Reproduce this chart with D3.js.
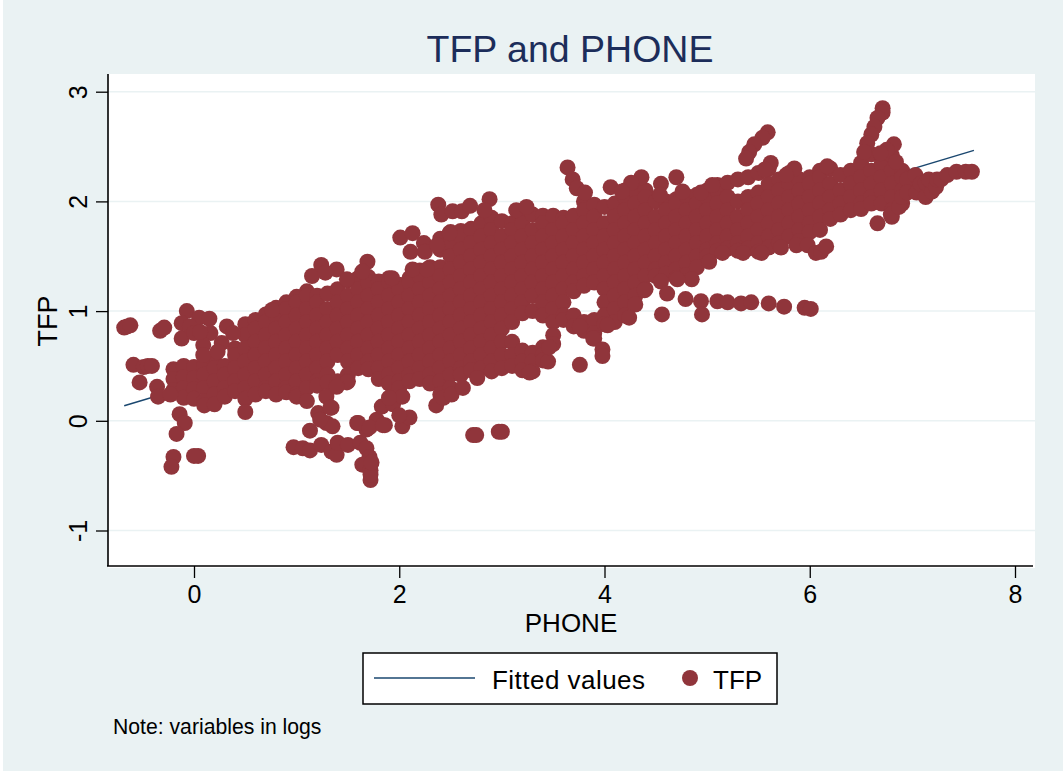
<!DOCTYPE html>
<html>
<head>
<meta charset="utf-8">
<title>TFP and PHONE</title>
<script src="https://cdn.jsdelivr.net/npm/d3@7"></script>
<style>
  html, body { margin: 0; background: #fff; }
  svg { display: block; }
  text { font-family: "Liberation Sans", Arial, sans-serif; fill: #000; }
</style>
</head>
<body>
<svg id="chart" width="1063" height="771"></svg>
<script>
const phoneTicks = [0, 2, 4, 6, 8];
const tfpTicks = [-1, 0, 1, 2, 3];
const fittedPhone = [-0.68, 7.6];
const fittedTfp = [0.137, 2.465];

// main band
const bandPhone = [
  -0.2, -0.1, 0, 0.1, 0.2, 0.3, 0.4, 0.5, 0.6, 0.7, 0.8, 0.9,
  1, 1.1, 1.2, 1.3, 1.4, 1.5, 1.6, 1.7, 1.8, 1.9,
  2, 2.1, 2.2, 2.3, 2.4, 2.5, 2.6, 2.7, 2.8, 2.9,
  3, 3.1, 3.2, 3.3, 3.4, 3.5, 3.6, 3.7, 3.8, 3.9,
  4, 4.1, 4.2, 4.3, 4.4, 4.5, 4.6, 4.7, 4.8, 4.9,
  5, 5.1, 5.2, 5.3, 5.4, 5.5, 5.6, 5.7, 5.8, 5.9,
  6, 6.1, 6.2, 6.3, 6.4, 6.5, 6.6, 6.7, 6.8, 6.9, 7,
];
const bandTfp = [
  [0.47, 0.38, 0.28],
  [0.5, 0.4, 0.3, 0.21],
  [0.49, 0.39, 0.29, 0.2],
  [0.5, 0.42, 0.3, 0.18, 0.14],
  [0.54, 0.48, 0.36, 0.24, 0.15],
  [0.5, 0.42, 0.3, 0.22],
  [0.66, 0.6, 0.48, 0.36, 0.27],
  [0.88, 0.78, 0.66, 0.54, 0.42, 0.3, 0.2, 0.08],
  [0.92, 0.84, 0.72, 0.6, 0.48, 0.36, 0.24],
  [0.97, 0.9, 0.78, 0.66, 0.54, 0.42, 0.3, 0.27],
  [1.03, 0.96, 0.84, 0.72, 0.6, 0.48, 0.36, 0.24],
  [1.08, 1.02, 0.9, 0.78, 0.66, 0.54, 0.42, 0.3, 0.26],
  [1.13, 1.08, 0.96, 0.84, 0.72, 0.6, 0.48, 0.36, 0.24, 0.22],
  [1.18, 1.14, 1.02, 0.9, 0.78, 0.66, 0.54, 0.42, 0.3, 0.18],
  [1.14, 1.08, 0.96, 0.84, 0.72, 0.6, 0.48, 0.36, 0.32],
  [1.16, 1.02, 0.9, 0.78, 0.66, 0.54, 0.42, 0.35],
  [1.2, 1.08, 0.96, 0.84, 0.72, 0.6, 0.36],
  [1.28, 1.14, 1.02, 0.9, 0.78, 0.66, 0.54, 0.42, 0.36],
  [1.3, 1.2, 1.08, 0.96, 0.84, 0.72, 0.6, 0.48],
  [1.31, 1.26, 1.14, 1.02, 0.9, 0.78, 0.66, 0.54, 0.47],
  [1.27, 1.2, 1.08, 0.96, 0.84, 0.72, 0.6, 0.48, 0.38],
  [1.3, 1.26, 1.14, 1.02, 0.9, 0.78, 0.66, 0.54, 0.42, 0.34],
  [1.24, 1.2, 1.08, 0.96, 0.84, 0.72, 0.6, 0.48, 0.36, 0.3],
  [1.3, 1.26, 1.14, 1.02, 0.9, 0.78, 0.66, 0.54, 0.42, 0.36],
  [1.37, 1.32, 1.2, 1.08, 0.96, 0.84, 0.72, 0.6, 0.48, 0.38],
  [1.4, 1.38, 1.26, 1.14, 1.02, 0.9, 0.78, 0.66, 0.54, 0.42, 0.34],
  [1.66, 1.56, 1.4, 1.32, 1.2, 1.08, 0.96, 0.84, 0.72, 0.6, 0.48, 0.36, 0.24],
  [1.72, 1.62, 1.5, 1.38, 1.26, 1.14, 1.02, 0.9, 0.78, 0.66, 0.54, 0.42, 0.3],
  [1.73, 1.68, 1.56, 1.44, 1.32, 1.2, 1.08, 0.96, 0.84, 0.72, 0.6, 0.48, 0.42],
  [1.75, 1.62, 1.5, 1.38, 1.26, 1.14, 1.02, 0.9, 0.78, 0.66, 0.54, 0.46],
  [1.8, 1.68, 1.56, 1.44, 1.32, 1.2, 1.08, 0.96, 0.84, 0.72, 0.6, 0.48],
  [1.85, 1.74, 1.62, 1.5, 1.38, 1.26, 1.14, 1.02, 0.9, 0.78, 0.66, 0.54, 0.45],
  [1.82, 1.68, 1.56, 1.44, 1.32, 1.2, 1.08, 0.96, 0.84, 0.72, 0.6, 0.48],
  [1.8, 1.74, 1.62, 1.5, 1.38, 1.26, 1.14, 1.02, 0.9, 0.72, 0.6, 0.5],
  [1.86, 1.8, 1.68, 1.56, 1.44, 1.32, 1.2, 1.08, 0.98, 0.64, 0.54, 0.46],
  [1.88, 1.74, 1.62, 1.5, 1.38, 1.26, 1.14, 1, 0.62, 0.54, 0.45],
  [1.87, 1.8, 1.68, 1.56, 1.44, 1.32, 1.2, 1.08, 0.96, 0.67, 0.6, 0.55],
  [1.87, 1.74, 1.62, 1.5, 1.38, 1.26, 1.14, 1.02, 0.9, 0.78, 0.7],
  [1.85, 1.8, 1.68, 1.56, 1.44, 1.32, 1.2, 1.08, 0.96, 0.92],
  [1.87, 1.74, 1.62, 1.5, 1.38, 1.26, 1.18, 0.96, 0.86],
  [2, 1.92, 1.8, 1.68, 1.56, 1.44, 1.32, 1.23, 0.9, 0.82],
  [1.97, 1.86, 1.74, 1.62, 1.5, 1.38, 1.26, 0.92, 0.8, 0.75],
  [1.95, 1.8, 1.68, 1.56, 1.44, 1.32, 1.2, 1.08, 0.96, 0.88],
  [1.98, 1.86, 1.74, 1.62, 1.5, 1.38, 1.26, 1.14, 1.02, 0.9],
  [2.1, 2.04, 1.92, 1.8, 1.68, 1.56, 1.44, 1.32, 1.2, 1.08, 0.96],
  [2.15, 2.1, 1.98, 1.86, 1.74, 1.62, 1.5, 1.38, 1.26, 1.14, 1.06],
  [2.1, 2.04, 1.92, 1.8, 1.68, 1.56, 1.44, 1.32, 1.2],
  [2, 1.86, 1.74, 1.62, 1.5, 1.38, 1.32],
  [2, 1.92, 1.8, 1.68, 1.56, 1.44, 1.34],
  [2.02, 1.98, 1.86, 1.74, 1.62, 1.5, 1.38, 1.3],
  [2.05, 1.92, 1.8, 1.68, 1.56, 1.44, 1.33],
  [2.06, 1.98, 1.86, 1.74, 1.62, 1.5, 1.4],
  [2.1, 2.04, 1.92, 1.8, 1.68, 1.56, 1.5],
  [2.15, 2.1, 1.98, 1.86, 1.74, 1.62, 1.55],
  [2.17, 2.04, 1.92, 1.8, 1.68, 1.57],
  [2.2, 2, 1.86, 1.74, 1.62, 1.55],
  [2.22, 2.04, 1.92, 1.8, 1.68, 1.57],
  [2.26, 2.08, 1.98, 1.86, 1.74, 1.62, 1.54],
  [2.3, 2.16, 2.04, 1.92, 1.8, 1.68, 1.58],
  [2.2, 2.1, 1.98, 1.86, 1.74, 1.62],
  [2.26, 2.16, 2.04, 1.92, 1.8, 1.68],
  [2.2, 2.1, 1.98, 1.86, 1.74, 1.64],
  [2.22, 2.16, 2.04, 1.92, 1.8, 1.72],
  [2.28, 2.22, 2.1, 1.98, 1.86, 1.74],
  [2.3, 2.16, 2.04, 1.92, 1.84],
  [2.24, 2.1, 1.98, 1.88],
  [2.28, 2.16, 2.04, 1.92],
  [2.35, 2.22, 2.1, 1.98, 1.93],
  [2.43, 2.28, 2.16, 2.04, 1.98],
  [2.42, 2.34, 2.22, 2.1, 1.98],
  [2.42, 2.28, 2.16, 2.04, 1.92, 1.86],
  [2.28, 2.22, 2.1, 1.98],
  [2.22, 2.1],
];

// points sitting off the band
const leftPoints = [
  [-0.68, 0.85], [-0.65, 0.86], [-0.62, 0.87], [-0.33, 0.82], [-0.29, 0.85],
  [-0.59, 0.51], [-0.49, 0.49], [-0.45, 0.5], [-0.41, 0.5], [-0.53, 0.35],
  [-0.36, 0.31], [-0.35, 0.22], [-0.23, 0.24], [-0.14, 0.06], [-0.09, -0.02],
  [-0.17, -0.12], [-0.2, -0.33], [-0.22, -0.42], [0.04, -0.32], [0, -0.32],
  [-0.07, 1], [-0.12, 0.89], [0.05, 0.94], [0.15, 0.93], [0.16, 0.8],
  [-0.12, 0.75], [-0.04, 0.86], [0.09, 0.69], [0.09, 0.6], [0.27, 0.71],
  [0.23, 0.63], [0.32, 0.86], [0, 0.8], [0.06, 0.81], [0.38, 0.8],
];
const lowerPoints = [
  [1.29, 0.22], [1.34, 0.12], [1.21, 0.07], [1.29, -0.02], [1.35, -0.05],
  [1.13, -0.09], [1.23, 0.01], [0.97, -0.24], [1.06, -0.25], [1.13, -0.27],
  [1.24, -0.22], [1.34, -0.28], [1.39, -0.31], [1.4, -0.2], [1.5, -0.22],
  [1.62, -0.2], [1.68, -0.25], [1.71, -0.33], [1.64, -0.4], [1.72, -0.45],
  [1.72, -0.54], [1.72, -0.49], [1.73, -0.38], [1.59, -0.02], [1.68, -0.08],
  [1.78, 0.01], [1.86, -0.04], [2.03, -0.05], [2.1, 0.03], [1.83, 0.13],
  [1.94, 0.15], [2, 0.05], [2.03, 0.22], [1.9, 0.21], [1.49, 0.35], [1.39, 0.31],
  [1.33, 0.12], [1.6, -0.02], [1.71, -0.06], [1.84, -0.04],
  [2.36, 0.14], [2.43, 0.21], [2.51, 0.24], [2.62, 0.3], [2.76, 0.39],
  [2.72, -0.13], [2.75, -0.13], [2.97, -0.1], [3, -0.1], [3.27, 0.44],
  [3.45, 0.54], [3.46, 0.67], [3.76, 0.51], [3.76, 0.86], [3.89, 0.75],
  [3.98, 0.65], [3.98, 0.59], [4.03, 0.87], [4.24, 0.94],
  [4.39, 1.19], [4.55, 1.27], [4.61, 1.16], [4.79, 1.11], [4.94, 1.09],
  [4.56, 0.97], [4.95, 0.97], [4.85, 1.29], [4.71, 1.29], [5.02, 1.45],
  [5.1, 1.09], [5.2, 1.08], [5.33, 1.07], [5.43, 1.08], [5.6, 1.07],
  [5.75, 1.04], [5.95, 1.03], [6.01, 1.02],
  [5.15, 1.53], [5.35, 1.53], [5.53, 1.53], [5.72, 1.58], [5.87, 1.6],
  [5.98, 1.6], [6.06, 1.53], [6.11, 1.54], [6.16, 1.59], [6.66, 1.8],
];
const upperPoints = [
  [1.15, 1.32], [1.24, 1.42], [1.39, 1.38], [1.28, 1.35], [1.69, 1.45],
  [1.64, 1.36], [1.93, 1.3], [1.49, 1.29], [0.76, 1.01],
  [2.01, 1.67], [2.13, 1.71], [2.11, 1.54], [2.24, 1.62], [2.25, 1.54],
  [2.13, 1.38], [2.27, 1.38], [2.37, 1.6], [2.49, 1.71],
  [2.38, 1.97], [2.41, 1.88], [2.52, 1.91], [2.61, 1.91], [2.69, 1.96],
  [2.88, 2.02], [2.83, 1.92], [3.14, 1.92], [3.24, 1.95],
  [3.64, 2.31], [3.69, 2.2], [3.73, 2.12], [3.81, 2.08],
  [4.06, 2.13], [4.36, 2.22], [4.26, 2.17], [4.17, 2.09], [4.55, 2.16],
  [4.54, 2.06], [4.7, 2.22], [4.76, 2.09], [4.94, 2.08], [5.05, 2.15],
  [5.59, 2.63], [5.54, 2.58], [5.46, 2.52], [5.41, 2.45], [5.38, 2.39],
  [5.62, 2.35], [5.85, 2.3], [5.77, 2.24], [5.56, 2.29], [6.17, 2.32],
  [6.71, 2.85], [6.71, 2.81], [6.66, 2.76], [6.63, 2.68], [6.6, 2.61],
  [6.56, 2.53], [6.53, 2.45], [6.82, 2.52], [6.75, 2.47], [6.69, 2.44], [6.84, 2.36],
];
const rightPoints = [
  [6.79, 1.88], [6.87, 1.95], [6.9, 2.04], [6.95, 2.2], [6.95, 2.08],
  [7.03, 2.24], [7.04, 2.08], [7.08, 2.16], [7.13, 2.04], [7.13, 2.17],
  [7.19, 2.09], [7.16, 2.2], [7.23, 2.13], [7.24, 2.2], [7.28, 2.2],
  [7.34, 2.24], [7.43, 2.27], [7.52, 2.27], [7.58, 2.27],
];

const width = 1063;
const height = 771;
const plotLeft = 108;
const plotRight = 1033;
const plotTop = 74;
const plotBottom = 566;
const markerRadius = 8;
const maroon = '#90353b';
const navy = '#1a476f';
const background = '#eaf2f3';

const svg = d3.select('#chart');
const x = d3.scaleLinear().domain([0, 8]).range([194, 1015]);
const y = d3.scaleLinear().domain([-1, 3]).range([530.5, 91.7]);

// page and plot backgrounds
svg.append('rect')
  .attr('x', 3)
  .attr('width', width - 3)
  .attr('height', height)
  .attr('fill', background);
svg.append('rect')
  .attr('x', plotLeft)
  .attr('y', plotTop)
  .attr('width', plotRight + 2 - plotLeft)
  .attr('height', plotBottom + 2 - plotTop)
  .attr('fill', '#fff');

// gridlines
svg.append('g')
  .selectAll('line')
  .data(tfpTicks)
  .join('line')
    .attr('x1', plotLeft)
    .attr('x2', plotRight + 2)
    .attr('y1', (d) => y(d))
    .attr('y2', (d) => y(d))
    .attr('stroke', background)
    .attr('stroke-width', 1.5);

// fitted line goes under the markers
const fitted = fittedPhone.map((d, i) => [d, fittedTfp[i]]);
svg.append('path')
  .attr('d', d3.line().x((d) => x(d[0])).y((d) => y(d[1]))(fitted))
  .attr('fill', 'none')
  .attr('stroke', navy)
  .attr('stroke-width', 1.5);

const bandPoints = bandPhone.flatMap((p, i) => bandTfp[i].map((t) => [p, t]));
const points = [...bandPoints, ...leftPoints, ...lowerPoints, ...upperPoints, ...rightPoints];
svg.append('g')
  .selectAll('circle')
  .data(points)
  .join('circle')
    .attr('cx', (d) => x(d[0]))
    .attr('cy', (d) => y(d[1]))
    .attr('r', markerRadius)
    .attr('fill', maroon);

// axes
const xAxis = svg.append('g')
  .attr('transform', `translate(0,${plotBottom})`)
  .call(d3.axisBottom(x).tickValues(phoneTicks).tickSize(12).tickPadding(7)
    .tickFormat(d3.format('d')));
xAxis.select('.domain').remove();
xAxis.append('line')
  .attr('x1', plotLeft - 1)
  .attr('x2', plotRight)
  .attr('stroke', '#000')
  .attr('stroke-width', 1.6);
xAxis.selectAll('.tick line').attr('stroke', '#000').attr('stroke-width', 1.3);
xAxis.selectAll('.tick text')
  .attr('font-size', 25)
  .attr('font-family', '"Liberation Sans", Arial, sans-serif')
  .attr('fill', '#000');

const yAxis = svg.append('g')
  .attr('transform', `translate(${plotLeft},0)`)
  .call(d3.axisLeft(y).tickValues(tfpTicks).tickSize(12).tickPadding(8)
    .tickFormat((d) => String(d)));
yAxis.select('.domain').remove();
yAxis.append('line')
  .attr('y1', plotTop)
  .attr('y2', plotBottom)
  .attr('stroke', '#000')
  .attr('stroke-width', 1.6);
yAxis.selectAll('.tick line').attr('stroke', '#000').attr('stroke-width', 1.3);
yAxis.selectAll('.tick text')
  .attr('font-size', 25)
  .attr('font-family', '"Liberation Sans", Arial, sans-serif')
  .attr('fill', '#000')
  .attr('dy', 0)
  .attr('x', 0)
  .attr('text-anchor', 'middle')
  .attr('transform', 'translate(-21,0) rotate(-90)');

// titles
svg.append('text')
  .attr('x', 570)
  .attr('y', 62)
  .attr('text-anchor', 'middle')
  .attr('font-size', 37.5)
  .style('fill', '#1c2d5a')
  .text('TFP and PHONE');
svg.append('text')
  .attr('x', 571)
  .attr('y', 632)
  .attr('text-anchor', 'middle')
  .attr('font-size', 26)
  .text('PHONE');
svg.append('text')
  .attr('transform', 'translate(57,321) rotate(-90)')
  .attr('text-anchor', 'middle')
  .attr('font-size', 27)
  .text('TFP');

// legend
const legend = svg.append('g');
legend.append('rect')
  .attr('x', 363)
  .attr('y', 653)
  .attr('width', 414)
  .attr('height', 51)
  .attr('fill', '#fff')
  .attr('stroke', '#000')
  .attr('stroke-width', 1.5);
legend.append('line')
  .attr('x1', 374)
  .attr('x2', 475)
  .attr('y1', 678)
  .attr('y2', 678)
  .attr('stroke', navy)
  .attr('stroke-width', 1.5);
legend.append('text')
  .attr('x', 492)
  .attr('y', 689)
  .attr('font-size', 26)
  .attr('textLength', 153)
  .text('Fitted values');
legend.append('circle')
  .attr('cx', 690)
  .attr('cy', 678)
  .attr('r', markerRadius)
  .attr('fill', maroon);
legend.append('text')
  .attr('x', 713)
  .attr('y', 689)
  .attr('font-size', 26)
  .text('TFP');

svg.append('text')
  .attr('x', 113)
  .attr('y', 734)
  .attr('font-size', 21.2)
  .text('Note: variables in logs');
</script>
</body>
</html>
